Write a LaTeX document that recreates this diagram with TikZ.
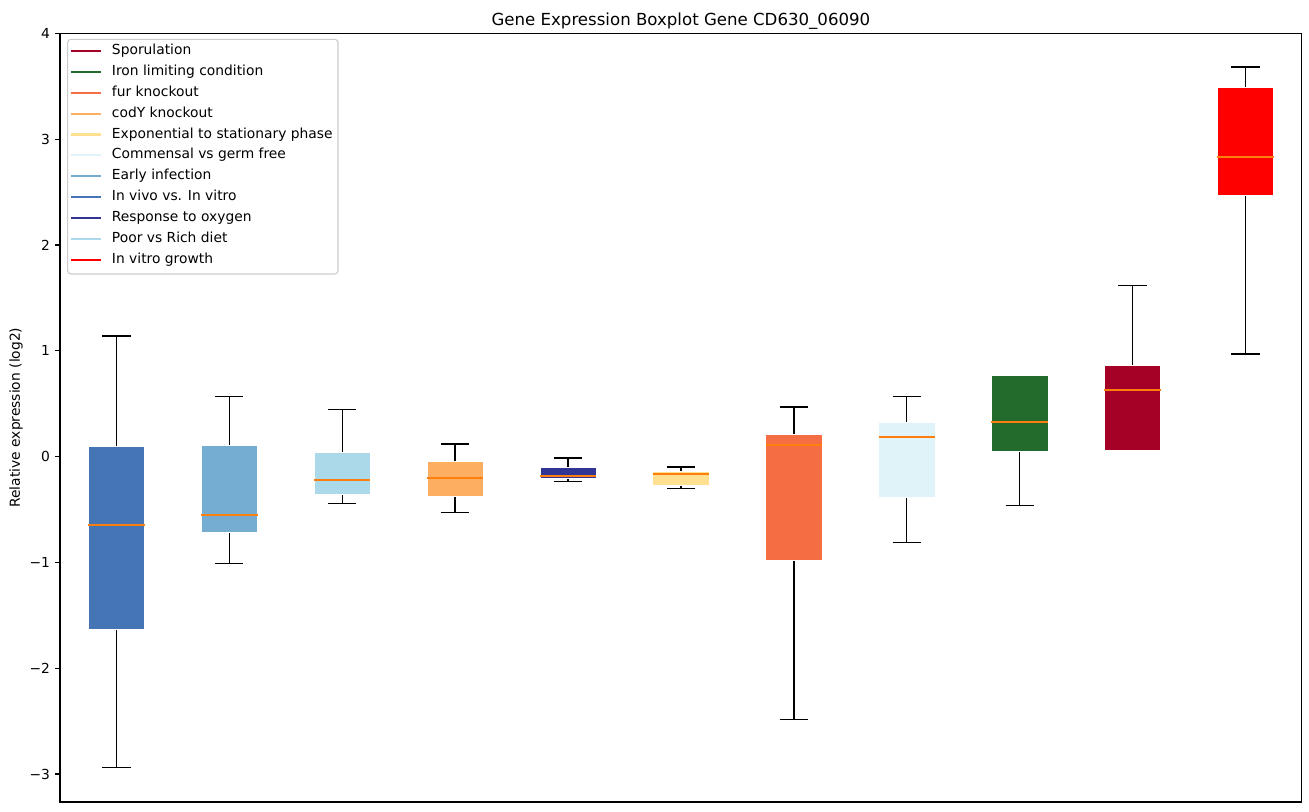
\documentclass[tikz,border=0pt]{standalone}
\usepackage{fontspec}
\setmainfont{DejaVu Sans}
\usepackage{tikz}

\definecolor{spor}{HTML}{A50026}
\definecolor{iron}{HTML}{236B2D}
\definecolor{fur}{HTML}{F46D43}
\definecolor{cody}{HTML}{FDAE61}
\definecolor{expo}{HTML}{FEE090}
\definecolor{comm}{HTML}{E0F3F8}
\definecolor{early}{HTML}{74ADD1}
\definecolor{invivo}{HTML}{4575B4}
\definecolor{oxygen}{HTML}{313695}
\definecolor{poor}{HTML}{ABD9E9}
\definecolor{invitro}{HTML}{FF0000}
\definecolor{medianorange}{HTML}{FF7F0E}
\definecolor{framegray}{HTML}{CCCCCC}

\begin{document}
\begin{tikzpicture}[x=28.677mm, y=26.873mm,  % one unit = one box position / one log2 step
    every node/.style={inner sep=0pt, font=\fontsize{10}{12}\selectfont},
    spine/.style={line width=0.8pt, black},
    whisker/.style={line width=1pt, black},
    median/.style={line width=1.3pt, medianorange},
    boxfill/.style={draw=white, line width=0.4pt, fill=#1},
    handle/.style={line width=1.5pt, #1},
    ticklabel/.style={anchor=east},
    legendtext/.style={anchor=west, text height=7.5pt, text depth=2.4pt}
    ]

    \useasboundingbox (-0.0314,-3.3592) rectangle (11.5631,4.3157);

    % boxes, left to right
    \draw[whisker] (1,-2.937) -- (1,1.139) (0.875,-2.937) -- +(0.25,0) (0.875,1.139) -- +(0.25,0);
    \filldraw[boxfill=invivo] (0.75,-1.636) rectangle (1.25,0.094);
    \draw[median] (0.75,-0.649) -- (1.25,-0.649);

    \draw[whisker] (2,-1.008) -- (2,0.570) (1.875,-1.008) -- +(0.25,0) (1.875,0.570) -- +(0.25,0);
    \filldraw[boxfill=early] (1.75,-0.715) rectangle (2.25,0.103);
    \draw[median] (1.75,-0.549) -- (2.25,-0.549);

    \draw[whisker] (3,-0.441) -- (3,0.446) (2.875,-0.441) -- +(0.25,0) (2.875,0.446) -- +(0.25,0);
    \filldraw[boxfill=poor] (2.75,-0.360) rectangle (3.25,0.043);
    \draw[median] (2.75,-0.224) -- (3.25,-0.224);

    \draw[whisker] (4,-0.526) -- (4,0.119) (3.875,-0.526) -- +(0.25,0) (3.875,0.119) -- +(0.25,0);
    \filldraw[boxfill=cody] (3.75,-0.372) rectangle (4.25,-0.043);
    \draw[median] (3.75,-0.205) -- (4.25,-0.205);

    \draw[whisker] (5,-0.233) -- (5,-0.013) (4.875,-0.233) -- +(0.25,0) (4.875,-0.013) -- +(0.25,0);
    \filldraw[boxfill=oxygen] (4.75,-0.209) rectangle (5.25,-0.098);
    \draw[median] (4.75,-0.186) -- (5.25,-0.186);

    \draw[whisker] (6,-0.300) -- (6,-0.098) (5.875,-0.300) -- +(0.25,0) (5.875,-0.098) -- +(0.25,0);
    \filldraw[boxfill=expo] (5.75,-0.268) rectangle (6.25,-0.136);
    \draw[median] (5.75,-0.167) -- (6.25,-0.167);

    \draw[whisker] (7,-2.483) -- (7,0.468) (6.875,-2.483) -- +(0.25,0) (6.875,0.468) -- +(0.25,0);
    \filldraw[boxfill=fur] (6.75,-0.977) rectangle (7.25,0.207);
    \draw[median] (6.75,0.107) -- (7.25,0.107);

    \draw[whisker] (8,-0.810) -- (8,0.570) (7.875,-0.810) -- +(0.25,0) (7.875,0.570) -- +(0.25,0);
    \filldraw[boxfill=comm] (7.75,-0.382) rectangle (8.25,0.327);
    \draw[median] (7.75,0.182) -- (8.25,0.182);

    \draw[whisker] (9,-0.460) -- (9,0.765) (8.875,-0.460) -- +(0.25,0) (8.875,0.765) -- +(0.25,0);
    \filldraw[boxfill=iron] (8.75,0.046) rectangle (9.25,0.765);
    \draw[median] (8.75,0.324) -- (9.25,0.324);

    \draw[whisker] (10,0.062) -- (10,1.619) (9.875,0.062) -- +(0.25,0) (9.875,1.619) -- +(0.25,0);
    \filldraw[boxfill=spor] (9.75,0.062) rectangle (10.25,0.866);
    \draw[median] (9.75,0.627) -- (10.25,0.627);

    \draw[whisker] (11,0.970) -- (11,3.682) (10.875,0.970) -- +(0.25,0) (10.875,3.682) -- +(0.25,0);
    \filldraw[boxfill=invitro] (10.75,2.466) rectangle (11.25,3.487);
    \draw[median] (10.75,2.829) -- (11.25,2.829);

    % axes
    \draw[spine] (0.5,-3.2647) rectangle (11.5,4);
    \draw[spine] (0.5,4) -- (0.457,4) (0.5,3) -- (0.457,3) (0.5,2) -- (0.457,2) (0.5,1) -- (0.457,1)
        (0.5,0) -- (0.457,0) (0.5,-1) -- (0.457,-1) (0.5,-2) -- (0.457,-2) (0.5,-3) -- (0.457,-3);
    \node[ticklabel] (y4) at (0.414,4) {4};
    \node[ticklabel] (y3) at (0.414,3) {3};
    \node[ticklabel] (y2) at (0.414,2) {2};
    \node[ticklabel] (y1) at (0.414,1) {1};
    \node[ticklabel] (y0) at (0.414,0) {0};
    \node[ticklabel] (ym1) at (0.414,-1) {−1};
    \node[ticklabel] (ym2) at (0.414,-2) {−2};
    \node[ticklabel] (ym3) at (0.414,-3) {−3};

    \node[rotate=90] (ylabel) at (0.110,0.368) {Relative expression (log2)};
    \node[anchor=base, font=\fontsize{12}{14}\selectfont] (title) at (6,4.079) {Gene Expression Boxplot Gene CD630\_06090};

    % legend
    \draw[line width=0.8pt, framegray, fill=white, rounded corners=0.8mm] (0.568,1.726) rectangle (2.962,3.944);
    \draw[handle=spor] (0.598,3.834) -- (0.861,3.834);
    \draw[handle=iron] (0.598,3.6365) -- (0.861,3.6365);
    \draw[handle=fur] (0.598,3.439) -- (0.861,3.439);
    \draw[handle=cody] (0.598,3.2415) -- (0.861,3.2415);
    \draw[handle=expo] (0.598,3.044) -- (0.861,3.044);
    \draw[handle=comm] (0.598,2.8465) -- (0.861,2.8465);
    \draw[handle=early] (0.598,2.649) -- (0.861,2.649);
    \draw[handle=invivo] (0.598,2.4515) -- (0.861,2.4515);
    \draw[handle=oxygen] (0.598,2.254) -- (0.861,2.254);
    \draw[handle=poor] (0.598,2.0565) -- (0.861,2.0565);
    \draw[handle=invitro] (0.598,1.859) -- (0.861,1.859);
    \node[legendtext] (lspor) at (0.958,3.834) {Sporulation};
    \node[legendtext] (liron) at (0.958,3.6365) {Iron limiting condition};
    \node[legendtext] (lfur) at (0.958,3.439) {fur knockout};
    \node[legendtext] (lcody) at (0.958,3.2415) {codY knockout};
    \node[legendtext] (lexpo) at (0.958,3.044) {Exponential to stationary phase};
    \node[legendtext] (lcomm) at (0.958,2.8465) {Commensal vs germ free};
    \node[legendtext] (learly) at (0.958,2.649) {Early infection};
    \node[legendtext] (linvivo) at (0.958,2.4515) {In vivo vs. In vitro};
    \node[legendtext] (loxygen) at (0.958,2.254) {Response to oxygen};
    \node[legendtext] (lpoor) at (0.958,2.0565) {Poor vs Rich diet};
    \node[legendtext] (linvitro) at (0.958,1.859) {In vitro growth};

\end{tikzpicture}
\end{document}
